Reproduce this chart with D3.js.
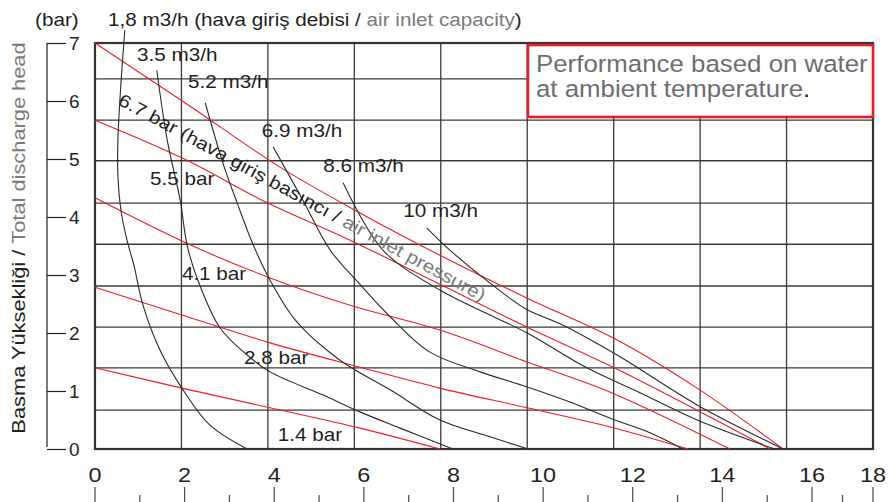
<!doctype html>
<html>
  <head>
    <meta charset="utf-8">
    <title>Pompa performans</title>
    <script src="https://cdnjs.cloudflare.com/ajax/libs/d3/7.8.5/d3.min.js"></script>
    <style>
      body { margin: 0; background: #fff; }
      svg text { font-family: "Liberation Sans", Arial, sans-serif; }
    </style>
  </head>
  <body>
    <div id="root"></div>
    <script>
      // flow curves (m3/h of air) : [flow m3/h, head bar]
      const flowNames = ['1,8', '3.5', '5.2', '6.9', '8.6', '10'];
      const flow18 = [[0.69,7.22],[0.60,6.3],[0.53,5.33],[0.53,4.72],[0.60,4.12],[0.74,3.60],[0.90,3.17],[1.11,2.48],[1.50,1.71],[2.01,1.05],[2.66,0.41],[3.52,0]];
      const flow35 = [[1.43,6.53],[1.67,5.33],[1.97,4.29],[2.13,3.52],[2.36,2.95],[2.89,2.09],[3.52,1.62],[4.05,1.33],[5.28,0.93],[6.13,0.64],[7.06,0.36],[8.28,0]];
      const flow52 = [[2.55,5.97],[2.96,4.93],[3.29,4.24],[3.66,3.52],[4.05,2.91],[4.67,2.19],[5.67,1.53],[6.83,1.02],[7.98,0.50],[9.14,0.21],[10.02,0]];
      const flow69 = [[4.12,5.21],[4.81,4.29],[5.44,3.43],[6.13,2.84],[6.83,2.28],[7.75,1.67],[8.91,1.33],[10.0,1.07],[10.99,0.81],[11.92,0.53],[12.84,0.28],[13.6,0]];
      const flow86 = [[5.74,4.59],[6.66,3.43],[7.98,2.74],[9.14,2.31],[10.0,2.0],[11.38,1.4],[12.61,0.97],[13.93,0.5],[15.73,0]];
      const flow10 = [[7.68,3.81],[8.21,3.43],[9.14,2.86],[10.0,2.40],[10.76,2.16],[12.08,1.62],[13.93,0.76],[15.92,0]];

      // air inlet pressure lines : [flow m3/h, head bar]
      const pressNames = ['6.7', '5.5', '4.1', '2.8', '1.4'];
      const press67 = [[0,7.0],[2.2,5.91],[4.28,4.86],[6.13,4.07],[7.98,3.34],[10.0,2.60],[12.08,1.88],[13.93,1.05],[15.92,0]];
      const press55 = [[0,5.67],[2.01,5.02],[4.0,4.24],[5.9,3.60],[7.98,2.84],[10.0,2.10],[11.99,1.41],[13.93,0.67],[15.62,0]];
      const press41 = [[0,4.33],[2.2,3.52],[4.05,2.95],[5.9,2.48],[7.98,2.05],[10.0,1.5],[11.92,0.98],[14.69,0]];
      const press28 = [[0,2.79],[2.01,2.31],[4.05,1.83],[6.13,1.41],[7.98,1.05],[10.0,0.71],[11.92,0.38],[13.72,0]];
      const press14 = [[0,1.40],[2.01,1.05],[4.05,0.71],[6.13,0.36],[7.98,0]];

      // label anchors in data units
      const flowLabelAt = [null,[0.97,6.69],[2.15,6.22],[3.86,5.38],[5.28,4.78],[7.13,4.0]];
      const pressLabelAt = [[0.51,5.95],[1.27,4.55],[2.01,2.91],[3.45,1.47],[4.23,0.14]];

      // axis ticks
      const xTicks = d3.range(0, 19, 1);
      const yTicks = [0,1,2,3,4,5,6,7];
      const gridCols = [2,4,6,8,10,12,14,16];
      const gridRows = [0.67,1.40,2.10,2.81,3.53,4.24,4.97,5.67,6.38];

      const W = 889, H = 502;
      const dark = '#231f20', grey = '#7a7a7a', red = '#ee1c25';
      const sx = 1.15; // print is a little wider than the screen font

      const svg = d3.select('#root').append('svg')
        .attr('width', W).attr('height', H);

      const x = d3.scaleLinear().domain([0,18]).range([95,873]);
      const y = d3.scaleLinear().domain([0,7]).range([449,43]);
      // the printed tick row is not aligned with the grid
      const xTickScale = d3.scaleLinear().domain([0,16,18]).range([95,812,873]);

      function label(px, py, size, rot, stretch) {
        return svg.append('text')
          .attr('transform', 'translate(' + px + ',' + py + ') rotate(' + (rot || 0) + ') scale(' + (stretch || sx) + ',1)')
          .attr('font-size', size).attr('fill', dark);
      }

      // grid
      svg.append('g').selectAll('line').data(gridCols).enter().append('line')
        .attr('x1', d => x(d)).attr('x2', d => x(d))
        .attr('y1', y(7)).attr('y2', y(0))
        .attr('stroke', '#3a3a3a').attr('stroke-width', 1.3);
      svg.append('g').selectAll('line').data(gridRows).enter().append('line')
        .attr('x1', x(0)).attr('x2', x(18))
        .attr('y1', d => y(d)).attr('y2', d => y(d))
        .attr('stroke', '#3a3a3a').attr('stroke-width', 1.3);
      svg.append('rect')
        .attr('x', x(0)).attr('y', y(7))
        .attr('width', x(18) - x(0)).attr('height', y(0) - y(7))
        .attr('fill', 'none').attr('stroke', '#333').attr('stroke-width', 2.2);

      // left axis
      const yAxis = d3.axisRight(y).tickValues(yTicks).tickSize(19).tickPadding(3).tickFormat(d3.format('d'));
      const gy = svg.append('g').attr('transform', 'translate(47,0)').call(yAxis);
      gy.select('.domain').attr('d', 'M0,' + y(7) + 'V' + (y(0) - 2)).attr('stroke', dark).attr('stroke-width', 1.2);
      gy.selectAll('.tick line').attr('stroke', dark).attr('stroke-width', 1.2);
      gy.selectAll('.tick text').attr('font-size', 19).attr('fill', dark)
        .attr('font-family', '"Liberation Sans", Arial, sans-serif');

      // bottom tick row
      const gx = svg.append('g');
      gx.selectAll('line').data(xTicks).enter().append('line')
        .attr('x1', d => xTickScale(d)).attr('x2', d => xTickScale(d))
        .attr('y1', d => d % 2 === 0 ? 487 : 495).attr('y2', 502)
        .attr('stroke', '#555').attr('stroke-width', 1.3);
      gx.selectAll('text').data(xTicks.filter(d => d % 2 === 0)).enter().append('text')
        .attr('transform', d => 'translate(' + xTickScale(d) + ',482) scale(1.2,1)')
        .attr('text-anchor', 'middle').attr('font-size', 19.5).attr('fill', dark)
        .text(d => d);

      // curves
      const line = d3.line().x(d => x(d[0])).y(d => y(d[1])).curve(d3.curveCatmullRom.alpha(0.5));
      const flows = [flow18, flow35, flow52, flow69, flow86, flow10];
      const presses = [press67, press55, press41, press28, press14];

      svg.append('g').selectAll('path').data(presses).enter().append('path')
        .attr('d', line).attr('fill', 'none').attr('stroke', red).attr('stroke-width', 1.1);
      svg.append('g').selectAll('path').data(flows).enter().append('path')
        .attr('d', line).attr('fill', 'none').attr('stroke', '#2a2a2a').attr('stroke-width', 1.1);

      // flow labels
      flowNames.forEach((f, i) => {
        if (i === 0) return;
        label(x(flowLabelAt[i][0]), y(flowLabelAt[i][1]), 18).text(f + ' m3/h');
      });
      const topLabel = label(108, 26, 18);
      topLabel.append('tspan').text(flowNames[0] + ' m3/h (hava giriş debisi / ');
      topLabel.append('tspan').attr('fill', grey).text('air inlet capacity');
      topLabel.append('tspan').text(')');

      label(35, 26, 18).text('(bar)');

      // pressure labels
      pressNames.forEach((p, i) => {
        const px = x(pressLabelAt[i][0]), py = y(pressLabelAt[i][1]);
        if (i === 0) {
          const t = label(px, py, 18, 28.5);
          t.append('tspan').text(p + ' bar (hava giriş basıncı / ');
          t.append('tspan').attr('fill', grey).text('air inlet pressure)');
        } else {
          label(px, py, 18).text(p + ' bar');
        }
      });

      // y title
      const yt = label(25, 238, 18.5, -90, 1.18).attr('text-anchor', 'middle');
      yt.append('tspan').text('Basma Yüksekliği / ');
      yt.append('tspan').attr('fill', grey).text('Total discharge head');

      // note box
      svg.append('rect').attr('x', 528).attr('y', 45).attr('width', 345).attr('height', 72)
        .attr('fill', '#fff').attr('stroke', '#e3202a').attr('stroke-width', 2.6);
      label(536, 72, 23.5, 0, 1.1).attr('fill', '#6d6e71').text('Performance based on water');
      const n2 = label(536, 97, 23.5, 0, 1.1).attr('fill', '#6d6e71');
      n2.append('tspan').text('at ambient temperature');
      n2.append('tspan').attr('fill', dark).text('.');
    </script>
  </body>
</html>
